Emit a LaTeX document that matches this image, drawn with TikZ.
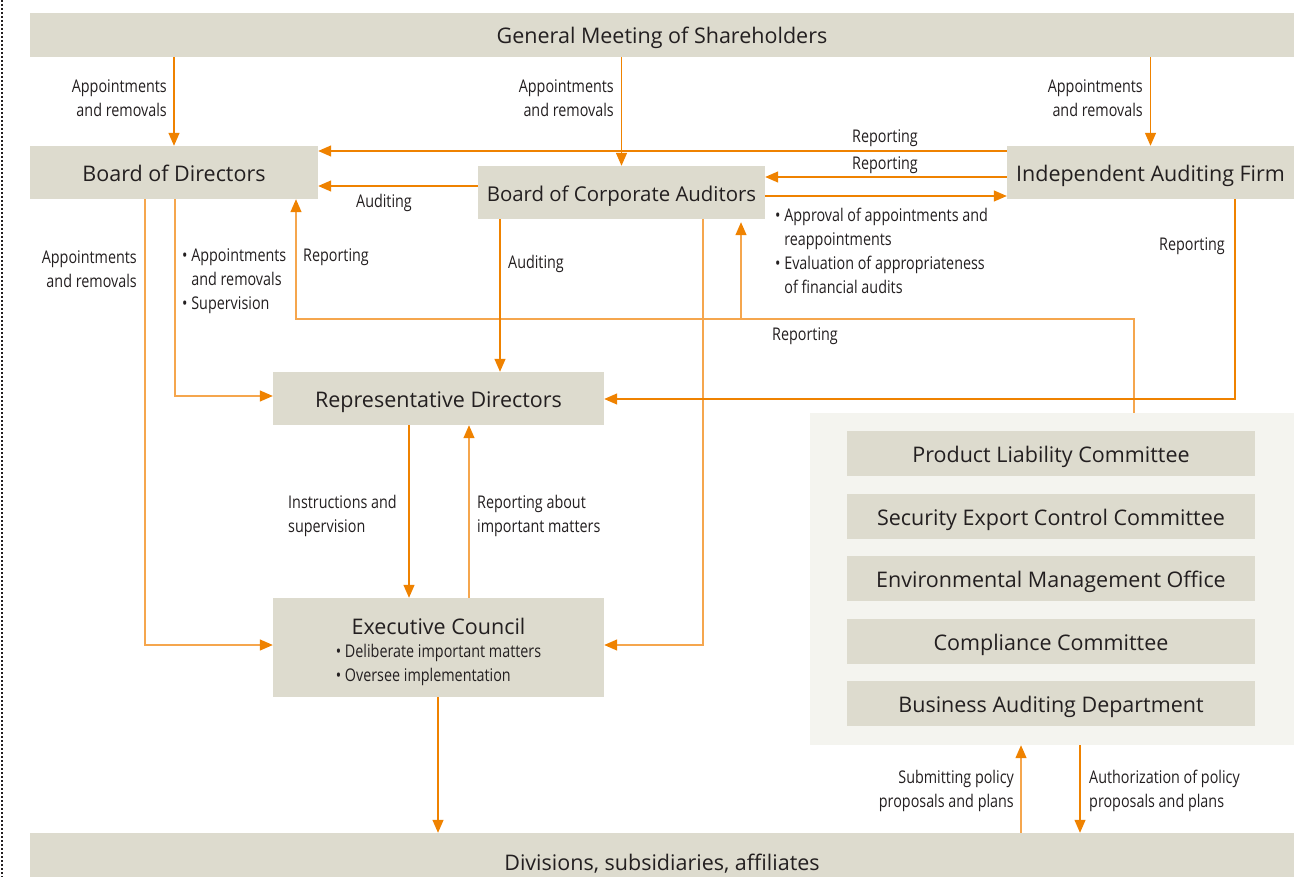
\documentclass[tikz,border=0pt]{standalone}
\usepackage{fontspec}
\setmainfont{Open Sans}
\newfontfamily\condfont[FakeStretch=0.82]{Open Sans}
\usetikzlibrary{arrows.meta}
\definecolor{boxgray}{HTML}{DDDBCE}
\definecolor{panelgray}{HTML}{F4F4EF}
\definecolor{orangeA}{HTML}{EF8200}
\definecolor{orangeL}{HTML}{F5A64E}
\definecolor{txt}{HTML}{231F20}
\newcommand{\titlefont}{\fontsize{21.5}{25}\selectfont}
\newcommand{\labfont}{\condfont\fontsize{17.5}{24}\selectfont}
\tikzset{
  box/.style={fill=boxgray, draw=none, inner sep=0pt, text=txt, font=\titlefont, text height=18pt, text depth=0pt},
  lab/.style={inner sep=0pt, text=txt, font=\labfont},
  arr/.style={draw=orangeA, line width=1.3pt, -{Triangle[length=13pt,width=11pt]}},
  arrL/.style={draw=orangeL, line width=1.3pt, -{Triangle[length=13pt,width=11pt,color=orangeA,fill=orangeA]}},
  ln/.style={draw=orangeL, line width=1.3pt},
}
\begin{document}
\begin{tikzpicture}[x=1pt,y=-1pt]
\useasboundingbox (0,0) rectangle (1303,877);
\clip (0,0) rectangle (1303,877);
\fill[white] (0,0) rectangle (1303,877);
% left dotted border
\draw[txt, line width=2pt, dash pattern=on 1.6pt off 2.4pt] (1.5,0) -- (1.5,877);

% boxes
\node[box, minimum width=1264pt, minimum height=44pt] (gms) at (662,35) {General Meeting of Shareholders};
\node[box, minimum width=288pt, minimum height=53pt] (bod) at (174,172.5) {Board of Directors};
\node[box, minimum width=287pt, minimum height=53pt, font=\fontsize{20.4}{25}\selectfont] (bca) at (621.5,192.5) {Board of Corporate Auditors};
\node[box, minimum width=287pt, minimum height=53pt] (iaf) at (1150.5,172.5) {Independent Auditing Firm};
\node[box, minimum width=331pt, minimum height=53pt] (rd) at (438.5,398.5) {Representative Directors};
\node[box, minimum width=331pt, minimum height=99pt, align=center, text height=, text depth=] (ec) at (438.5,647.5)
  {\rule{0pt}{28pt}Executive Council\\[5pt]{\labfont\begin{tabular}{@{}l@{}}\textbullet\ Deliberate important matters\\\textbullet\ Oversee implementation\end{tabular}}};
\node[fill=panelgray, minimum width=484pt, minimum height=332pt, inner sep=0pt] (panel) at (1052,579) {};
\node[box, minimum width=408pt, minimum height=45pt] (plc) at (1051,453.5) {Product Liability Committee};
\node[box, minimum width=408pt, minimum height=45pt] (sec) at (1051,516.5) {Security Export Control Committee};
\node[box, minimum width=408pt, minimum height=45pt] (emo) at (1051,578.5) {Environmental Management Office};
\node[box, minimum width=408pt, minimum height=45pt] (cc) at (1051,641.5) {Compliance Committee};
\node[box, minimum width=408pt, minimum height=45pt] (bad) at (1051,703.5) {Business Auditing Department};
\node[box, minimum width=1264pt, minimum height=56pt] (div) at (662,861) {Divisions, subsidiaries, affiliates};

% connectors from shareholders
\draw[arr] (gms.south -| bod) -- (bod.north);
\draw[arr] (gms.south -| bca) -- (bca.north);
\draw[arr] (gms.south -| iaf) -- (iaf.north);
\node[lab, anchor=east, align=right] (l1) at (167,98) {Appointments\\and removals};
\node[lab, anchor=east, align=right] (l2) at (614,98) {Appointments\\and removals};
\node[lab, anchor=east, align=right] (l3) at (1143,98) {Appointments\\and removals};

% reporting from IAF
\draw[arr] (iaf.west |- 0,151) -- (bod.east |- 0,151);
\draw[arr] (iaf.west |- 0,177) -- (bca.east |- 0,177);
\draw[arr] (bca.east |- 0,196) -- (iaf.west |- 0,196);
\node[lab] (r1) at (885,138) {Reporting};
\node[lab] (r2) at (885,165) {Reporting};
\node[lab, anchor=west, align=left] (appr) at (775,250.5)
  {\textbullet\ Approval of appointments and\\\phantom{\textbullet\ }reappointments\\\textbullet\ Evaluation of appropriateness\\\phantom{\textbullet\ }of financial audits};

% auditing BCA -> BoD
\draw[arr] (bca.west |- 0,186) -- (bod.east |- 0,186);
\node[lab] (aud1) at (384,203) {Auditing};

% BoD downwards
\draw[arrL] (bod.south -| 145,0) -- (145,645) -- (ec.west |- 0,645);
\draw[arrL] (bod.south -| 175,0) -- (175,396) -- (rd.west |- 0,396);
\node[lab, anchor=east, align=right] (l4) at (137,269) {Appointments\\and removals};
\node[lab, anchor=west, align=left] (l5) at (182,281) {\textbullet\ Appointments\\\phantom{\textbullet\ }and removals\\\textbullet\ Supervision};

% reporting loop to BoD and BCA
\coordinate (loopR) at (1134,319);
\draw[ln] (panel.north -| loopR) -- (loopR) -- (741,319);
\draw[arrL] (741,319) -- (296,319) -- (bod.south -| 296,0);
\draw[arrL] (741,319) -- ([yshift=-3pt]bca.south -| 741,0);
\node[lab, anchor=west] (r3) at (303,257) {Reporting};
\node[lab] (r4) at (805,336) {Reporting};

% BCA auditing
\draw[arr] (bca.south -| 500,0) -- (rd.north -| 500,0);
\node[lab] (aud2) at (536,264) {Auditing};
\draw[arrL] (bca.south -| 703,0) -- (703,645) -- (ec.east |- 0,645);

% IAF reporting to RD
\draw[arr] (iaf.south -| 1235,0) -- (1235,399) -- (rd.east |- 0,399);
\node[lab] (r5) at (1192,246) {Reporting};

% RD <-> EC
\draw[arr] (rd.south -| 409,0) -- (ec.north -| 409,0);
\draw[arrL] (ec.north -| 469,0) -- (rd.south -| 469,0);
\node[lab, anchor=west, align=left] (ins) at (288,516) {Instructions and\\supervision};
\node[lab, anchor=west, align=left] (rep) at (477,516) {Reporting about\\important matters};

% to divisions
\draw[arr] (ec.south -| 438,0) -- (div.north -| 438,0);
\draw[arr] (panel.south -| 1080,0) -- (div.north -| 1080,0);
\draw[arrL] (div.north -| 1021,0) -- (panel.south -| 1021,0);
\node[lab, anchor=east, align=right] (sub) at (1014,791) {Submitting policy\\proposals and plans};
\node[lab, anchor=west, align=left] (auth) at (1089,791) {Authorization of policy\\proposals and plans};
\end{tikzpicture}
\end{document}
